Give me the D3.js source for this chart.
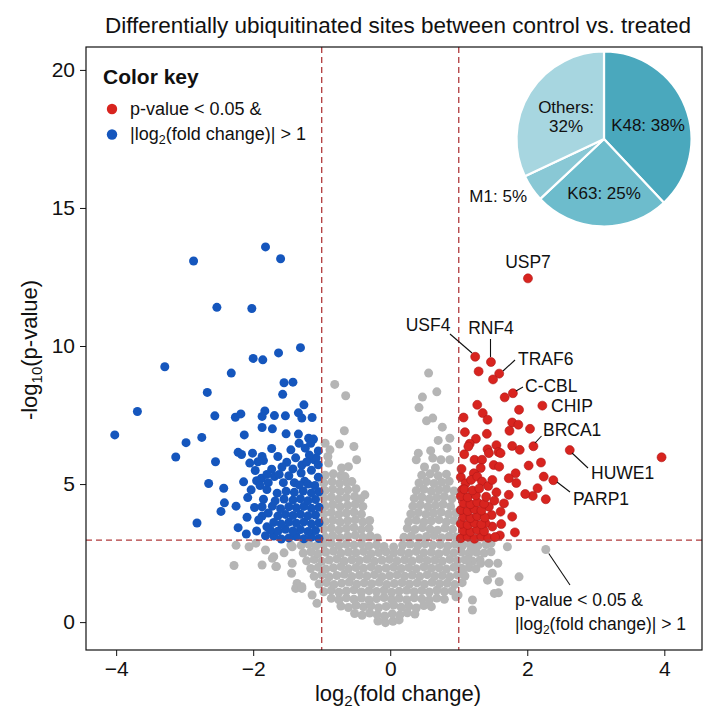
<!DOCTYPE html>
<html><head><meta charset="utf-8">
<script src="https://cdn.jsdelivr.net/npm/d3@7"></script>
<style>body{margin:0;background:#fff}svg{display:block}text{font-family:"Liberation Sans",Arial,Helvetica,sans-serif;fill:#111}</style>
</head><body><svg id="c" width="717" height="717"></svg>
<script>
const xTicks=[-4,-2,0,2,4];
const yTicks=[0,5,10,15,20];
const fcThreshold=1;
const pThreshold=2.97;
const pieLabels=["K48","K63","M1","Others"];
const pieValues=[38,25,5,32];
const geneLabels=["USP7","USF4","RNF4","TRAF6","C-CBL","CHIP","BRCA1","HUWE1","PARP1"];
const genePoints=[[2.01,12.45],[1.24,9.61],[1.47,9.42],[1.59,9.00],[1.79,8.29],[2.22,7.84],[2.09,6.37],[2.62,6.23],[2.38,5.14]];
const calloutPoint=[2.27,2.63];

const graySites=[
[-0.18,0.04],[-0.07,-0.02],[0.04,0.03],[0.13,0.08],
[-0.52,0.31],[-0.41,0.25],[-0.30,0.33],[-0.19,0.27],[-0.08,0.22],[0.03,0.30],[0.14,0.26],[0.25,0.34],[0.36,0.29],
[-0.72,0.58],[-0.61,0.53],[-0.50,0.61],[-0.39,0.55],[-0.28,0.59],[-0.17,0.52],[-0.06,0.57],[0.05,0.62],[0.16,0.54],[0.27,0.58],[0.38,0.51],[0.49,0.60],[0.60,0.56],
[-0.86,0.86],[-0.75,0.81],[-0.64,0.88],[-0.53,0.83],[-0.42,0.87],[-0.31,0.80],[-0.20,0.85],[-0.09,0.89],[0.02,0.82],[0.13,0.86],[0.24,0.81],[0.35,0.88],[0.46,0.84],[0.57,0.80],[0.68,0.87],[0.79,0.83],
[-0.97,1.10],[-0.86,1.15],[-0.75,1.08],[-0.64,1.13],[-0.53,1.17],[-0.42,1.09],[-0.31,1.14],[-0.20,1.11],[-0.09,1.16],[0.02,1.08],[0.13,1.12],[0.24,1.15],[0.35,1.10],[0.46,1.14],[0.57,1.09],[0.68,1.16],[0.79,1.11],[0.90,1.13],
[-1.04,1.38],[-0.93,1.43],[-0.82,1.36],[-0.71,1.41],[-0.60,1.45],[-0.49,1.37],[-0.38,1.42],[-0.27,1.39],[-0.16,1.44],[-0.05,1.36],[0.06,1.40],[0.17,1.43],[0.28,1.38],[0.39,1.42],[0.50,1.37],[0.61,1.44],[0.72,1.39],[0.83,1.41],[0.94,1.36],[1.05,1.43],
[-1.11,1.66],[-1.00,1.71],[-0.89,1.64],[-0.78,1.69],[-0.67,1.73],[-0.56,1.65],[-0.45,1.70],[-0.34,1.67],[-0.23,1.72],[-0.12,1.64],[-0.01,1.68],[0.10,1.71],[0.21,1.66],[0.32,1.70],[0.43,1.65],[0.54,1.72],[0.65,1.67],[0.76,1.69],[0.87,1.64],[0.98,1.71],[1.09,1.67],
[-1.16,1.94],[-1.05,1.99],[-0.94,1.92],[-0.83,1.97],[-0.72,2.01],[-0.61,1.93],[-0.50,1.98],[-0.39,1.95],[-0.28,2.00],[-0.17,1.92],[-0.06,1.96],[0.05,1.99],[0.16,1.94],[0.27,1.98],[0.38,1.93],[0.49,2.00],[0.60,1.95],[0.71,1.97],[0.82,1.92],[0.93,1.99],[1.04,1.95],[1.15,1.98],[1.25,1.93],
[-1.22,2.22],[-1.11,2.27],[-1.00,2.20],[-0.89,2.25],[-0.78,2.29],[-0.67,2.21],[-0.56,2.26],[-0.45,2.23],[-0.34,2.28],[-0.23,2.20],[-0.12,2.24],[-0.01,2.27],[0.10,2.22],[0.21,2.26],[0.32,2.21],[0.43,2.28],[0.54,2.23],[0.65,2.25],[0.76,2.20],[0.87,2.27],[0.98,2.23],[1.09,2.26],[1.20,2.21],[1.31,2.25],
[-1.27,2.50],[-1.16,2.55],[-1.05,2.48],[-0.94,2.53],[-0.83,2.57],[-0.72,2.49],[-0.61,2.54],[-0.50,2.51],[-0.39,2.56],[-0.28,2.48],[-0.17,2.52],[-0.06,2.55],[0.05,2.50],[0.16,2.54],[0.27,2.49],[0.38,2.56],[0.49,2.51],[0.60,2.53],[0.71,2.48],[0.82,2.55],[0.93,2.51],[1.04,2.54],[1.15,2.49],[1.26,2.53],[1.37,2.50],
[-1.30,2.78],[-1.19,2.83],[-1.08,2.76],[-0.97,2.81],[-0.86,2.85],[-0.75,2.77],[-0.64,2.82],[-0.53,2.79],[-0.42,2.84],[-0.31,2.76],[-0.20,2.80],[-0.09,2.74],[0.05,2.72],[0.18,2.79],[0.29,2.83],[0.40,2.77],[0.51,2.84],[0.62,2.79],[0.73,2.81],[0.84,2.76],[0.95,2.83],[1.06,2.79],[1.17,2.82],[1.28,2.77],[1.40,2.81],
[-0.95,3.08],[-0.84,3.13],[-0.73,3.06],[-0.62,3.11],[-0.51,3.15],[-0.40,3.07],[-0.29,3.12],[-0.19,3.05],
[-0.97,3.36],[-0.86,3.41],[-0.75,3.34],[-0.64,3.39],[-0.53,3.43],[-0.42,3.35],[-0.31,3.40],
[-0.95,3.64],[-0.84,3.69],[-0.73,3.62],[-0.62,3.67],[-0.51,3.71],[-0.40,3.63],[-0.30,3.68],
[-0.97,3.92],[-0.86,3.97],[-0.75,3.90],[-0.64,3.95],[-0.53,3.99],[-0.42,3.91],
[-0.95,4.20],[-0.84,4.25],[-0.73,4.18],[-0.62,4.23],[-0.51,4.27],[-0.40,4.19],
[-0.97,4.48],[-0.86,4.53],[-0.75,4.46],[-0.64,4.51],[-0.52,4.55],[-0.43,4.47],
[-0.95,4.76],[-0.84,4.81],[-0.73,4.74],[-0.62,4.79],[-0.50,4.83],
[-0.97,5.04],[-0.85,5.09],[-0.74,5.02],[-0.63,5.07],
[-0.95,5.32],[-0.83,5.37],[-0.72,5.30],
[0.20,3.07],[0.31,3.12],[0.42,3.05],[0.53,3.10],[0.64,3.14],[0.75,3.06],[0.86,3.11],[0.96,3.08],
[0.25,3.40],[0.36,3.35],[0.47,3.42],[0.58,3.37],[0.69,3.33],[0.80,3.41],[0.91,3.36],
[0.27,3.64],[0.38,3.69],[0.49,3.62],[0.60,3.67],[0.71,3.71],[0.82,3.63],[0.93,3.68],
[0.30,3.92],[0.41,3.97],[0.52,3.90],[0.63,3.95],[0.74,3.99],[0.85,3.91],[0.96,3.96],
[0.33,4.20],[0.44,4.25],[0.55,4.18],[0.66,4.23],[0.77,4.27],[0.88,4.19],
[0.35,4.48],[0.46,4.53],[0.57,4.46],[0.68,4.51],[0.79,4.55],[0.90,4.47],
[0.38,4.76],[0.49,4.81],[0.60,4.74],[0.71,4.79],[0.82,4.83],[0.93,4.75],
[0.42,5.04],[0.53,5.09],[0.64,5.02],[0.75,5.07],[0.86,5.10],
[0.46,5.32],[0.58,5.37],[0.70,5.30],[0.82,5.36],
[0.50,5.62],[0.66,5.58],
[-0.81,8.61],[-0.65,8.20],[-0.67,6.93],[-0.53,6.36],[-0.74,6.45],[-0.49,5.88],[-0.88,6.24],[-0.95,6.48],[-0.91,6.00],[-0.90,5.76],[-0.71,5.58],[-0.61,5.63],[-0.66,5.27],[-0.56,5.09],[-0.37,4.61],
[0.56,9.02],[0.68,8.34],[0.47,8.15],[0.42,7.77],[0.53,7.29],[0.62,7.39],[0.76,7.06],[0.70,6.58],[0.87,6.66],[0.83,6.30],[0.59,6.21],[0.41,6.12],[0.38,5.88],[0.62,5.94],[0.74,5.88],[0.87,5.88],
[-1.70,2.37],[-1.66,2.01],[-1.55,2.51],[-1.43,2.73],[-1.44,1.77],[-1.36,1.40],[-1.29,1.22],[-1.14,0.98],[-1.07,0.68],[-2.06,2.73],[-1.96,2.86],[-1.82,2.61],[-1.87,2.07],[-1.72,2.31],[-1.67,2.01],[-1.45,2.79],[-1.43,2.13],[-1.38,1.22],[-1.29,1.28],[-2.28,2.05],[-2.25,2.78],
[2.27,2.63],[1.71,2.73],[1.47,2.85],[1.47,2.55],[1.44,2.13],[1.57,2.13],[1.49,1.77],[1.59,1.46],[1.88,1.64],[1.58,1.06],[0.99,0.98],[1.20,0.44],[1.06,1.77],[1.13,2.25],[1.03,2.73],[1.18,2.61],[1.32,2.13],[1.42,1.52],[1.52,1.04],[1.20,0.80],[0.96,0.92]
];

const blueSites=[
[-1.82,13.59],[-1.60,13.16],[-2.87,13.08],[-2.53,11.40],[-2.02,11.36],[-1.31,9.94],[-1.63,9.75],[-2.00,9.55],[-1.86,9.50],[-3.29,9.25],[-2.32,9.02],[-1.55,8.67],[-1.42,8.69],[-1.57,8.25],[-2.67,8.32],[-3.69,7.63],[-4.02,6.78],[-2.56,7.47],[-2.26,7.42],[-2.18,7.54],[-1.83,7.65],[-1.87,7.45],[-1.69,7.48],[-1.53,7.47],[-1.34,7.58],[-1.26,7.87],[-1.29,7.39],[-1.14,7.41],[-1.87,7.05],[-1.72,7.00],[-2.13,6.78],[-1.52,6.82],[-1.34,6.81],[-1.19,6.66],[-1.12,6.63],[-2.75,6.69],[-2.98,6.50],[-3.13,5.98],[-2.55,5.81],[-2.22,6.15],[-2.17,6.07],[-2.01,6.12],[-1.87,6.00],[-1.85,5.85],[-1.93,5.81],[-1.73,6.29],[-1.64,6.00],[-1.51,5.79],[-1.45,6.24],[-1.33,6.48],[-1.24,6.30],[-1.16,6.48],[-1.11,5.88],[-1.29,5.69],[-2.05,5.76],[-1.97,5.49],[-1.88,5.21],[-1.73,5.54],[-1.69,5.27],[-2.65,5.02],[-2.43,4.85],[-2.42,4.32],[-2.47,4.01],[-2.82,3.59],[-2.14,5.08],[-2.03,4.79],[-2.08,4.51],[-2.09,3.80],[-2.10,3.19],[-1.82,3.13],[-1.87,4.18],[-1.87,3.84],
[-1.05,6.20],[-1.08,5.95],[-1.18,6.05],[-1.22,5.80],[-1.38,5.95],[-1.42,5.55],[-1.58,5.62],[-1.62,5.35],[-1.48,5.30],[-1.30,5.40],[-1.15,5.50],[-1.05,5.70],[-1.05,5.25],[-1.25,5.10],[-1.40,5.05],[-1.56,5.05],[-1.78,5.05],[-1.95,5.12],[-1.80,5.35],
[-1.04,3.03],[-1.15,3.08],[-1.26,3.02],[-1.37,3.10],[-1.48,3.05],[-1.59,3.01],[-1.70,3.12],
[-1.09,3.32],[-1.20,3.28],[-1.31,3.35],[-1.42,3.30],[-1.53,3.36],[-1.64,3.29],[-1.75,3.34],
[-1.04,3.60],[-1.15,3.56],[-1.26,3.63],[-1.37,3.58],[-1.48,3.62],[-1.59,3.55],[-1.70,3.61],
[-1.09,3.88],[-1.20,3.85],[-1.31,3.91],[-1.42,3.86],[-1.53,3.90],[-1.64,3.84],
[-1.04,4.16],[-1.15,4.12],[-1.26,4.19],[-1.37,4.14],[-1.48,4.18],[-1.60,4.11],[-1.72,4.20],
[-1.09,4.44],[-1.20,4.40],[-1.31,4.47],[-1.42,4.42],[-1.55,4.46],[-1.68,4.39],
[-1.04,4.72],[-1.15,4.68],[-1.27,4.75],[-1.40,4.70],[-1.52,4.74],[-1.65,4.67],
[-1.10,4.95],[-1.33,4.97],[-1.20,5.00],
[-1.80,3.45],[-1.92,3.70],[-1.85,4.45],[-1.98,4.15],[-1.80,4.80],[-1.95,3.30],[-1.78,3.95],[-1.90,4.95],[-2.22,3.42],[-2.25,4.20]
];

const redSites=[
[2.01,12.45],[1.24,9.61],[1.47,9.42],[1.29,9.08],[1.59,9.00],[1.50,8.79],[1.79,8.29],[1.67,8.14],[2.22,7.84],[1.88,7.69],[1.27,7.87],[1.35,7.57],[1.42,7.33],[1.07,7.41],[1.78,7.23],[1.87,7.15],[1.74,6.93],[2.04,7.00],[2.09,6.37],[1.78,6.38],[1.89,6.24],[1.09,6.88],[1.25,6.64],[1.41,6.82],[1.55,6.41],[1.42,6.26],[1.44,6.12],[1.58,6.16],[2.62,6.23],[3.96,5.97],[2.02,5.67],[2.20,5.78],[2.38,5.14],[2.24,5.27],[2.15,4.85],[2.08,4.57],[2.27,4.45],[1.97,4.64],[1.66,4.30],[1.78,3.82],[1.83,5.39],[1.84,5.04],
[1.16,6.46],[1.08,6.08],[1.14,6.36],[1.61,6.12],[1.23,5.88],[1.34,5.88],[1.32,5.58],[1.22,5.39],[1.51,5.69],[1.59,5.63],[1.03,5.25],[1.10,5.03],[1.05,4.79],[1.18,5.15],[1.27,5.27],[1.34,5.09],[1.43,4.93],[1.49,5.15],[1.73,5.21],[1.73,4.61],[1.61,4.00],[1.48,3.88],[1.82,3.25],[1.60,3.14],[1.49,3.46],[1.39,3.58],[1.32,3.94],[1.44,4.18],[1.55,4.70],[1.62,3.55],[1.52,4.40],[1.04,5.55],
[1.03,3.04],[1.13,3.09],[1.23,3.02],[1.33,3.10],[1.43,3.05],[1.53,3.08],
[1.07,3.31],[1.17,3.27],[1.27,3.34],[1.37,3.29],
[1.03,3.56],[1.13,3.52],[1.23,3.59],[1.33,3.54],
[1.07,3.81],[1.17,3.77],[1.27,3.84],[1.38,3.79],
[1.03,4.06],[1.13,4.02],[1.23,4.09],[1.33,4.04],
[1.07,4.31],[1.17,4.27],[1.27,4.34],[1.37,4.29],
[1.03,4.56],[1.13,4.52],[1.25,4.59],[1.40,4.54],
[1.08,4.81],[1.20,4.77],[1.30,4.84]
];

const L=86,R=702,T=47,B=650;
const svg=d3.select("#c");
const x=d3.scaleLinear().domain([-4.44,4.55]).range([L,R]);
const y=d3.scaleLinear().domain([-1.01,20.83]).range([B,T]);

svg.append("text").attr("x",398).attr("y",33).attr("text-anchor","middle").attr("font-size",22.5).text("Differentially ubiquitinated sites between control vs. treated");

const dash="#b13a3c";
const g=svg.append("g");
g.selectAll("circle.gr").data(graySites).join("circle").attr("class","gr")
 .attr("cx",d=>x(d[0])).attr("cy",d=>y(d[1])).attr("r",4.5).attr("fill","#b5b5b5");
g.selectAll("circle.bl").data(blueSites).join("circle").attr("class","bl")
 .attr("cx",d=>x(d[0])).attr("cy",d=>y(d[1])).attr("r",4.5).attr("fill","#1556bd");
g.selectAll("circle.rd").data(redSites).join("circle").attr("class","rd")
 .attr("cx",d=>x(d[0])).attr("cy",d=>y(d[1])).attr("r",4.5).attr("fill","#d8241f").attr("stroke","#b01818").attr("stroke-width",0.6);

[-fcThreshold,fcThreshold].forEach(v=>{
 svg.append("line").attr("x1",x(v)).attr("x2",x(v)).attr("y1",T).attr("y2",B)
  .attr("stroke",dash).attr("stroke-width",1.3).attr("stroke-dasharray","6,4");
});
svg.append("line").attr("x1",L).attr("x2",R).attr("y1",y(pThreshold)).attr("y2",y(pThreshold))
 .attr("stroke",dash).attr("stroke-width",1.3).attr("stroke-dasharray","6,4");

svg.append("rect").attr("x",L).attr("y",T).attr("width",R-L).attr("height",B-T).attr("fill","none").attr("stroke","#111").attr("stroke-width",1.2);
const ax=svg.append("g").attr("transform",`translate(0,${B})`).call(d3.axisBottom(x).tickValues(xTicks).tickSize(6).tickPadding(5));
const ay=svg.append("g").attr("transform",`translate(${L},0)`).call(d3.axisLeft(y).tickValues(yTicks).tickSize(6).tickPadding(5));
[ax,ay].forEach(a=>{a.select(".domain").remove();a.selectAll("line").attr("stroke","#111");a.selectAll("text").attr("font-size",21).attr("font-family","Liberation Sans, Arial").attr("fill","#111");});

const xt=svg.append("text").attr("x",398).attr("y",701).attr("text-anchor","middle").attr("font-size",22);
xt.append("tspan").text("log");xt.append("tspan").attr("font-size",15).attr("dy",5).text("2");xt.append("tspan").attr("dy",-5).text("(fold change)");
const yt=svg.append("text").attr("transform","translate(37,350) rotate(-90)").attr("text-anchor","middle").attr("font-size",22);
yt.append("tspan").text("-log");yt.append("tspan").attr("font-size",15).attr("dy",5).text("10");yt.append("tspan").attr("dy",-5).text("(p-value)");

svg.append("text").attr("x",103).attr("y",84).attr("font-size",21).attr("font-weight","bold").text("Color key");
svg.append("circle").attr("cx",112).attr("cy",109).attr("r",5.2).attr("fill","#d8241f");
svg.append("circle").attr("cx",112).attr("cy",134.5).attr("r",5.2).attr("fill","#1556bd");
svg.append("text").attr("x",130).attr("y",115).attr("font-size",18).text("p-value < 0.05 &");
const lg=svg.append("text").attr("x",130).attr("y",140).attr("font-size",18);
lg.append("tspan").text("|log");lg.append("tspan").attr("font-size",12.5).attr("dy",4).text("2");lg.append("tspan").attr("dy",-4).text("(fold change)| > 1");

const labelLayout=[
 {tx:528,ty:268,anchor:"middle"},
 {tx:428,ty:331,anchor:"middle",line:[450,334,472,353]},
 {tx:491,ty:334,anchor:"middle",line:[490.5,339,490.5,357]},
 {tx:518,ty:365,anchor:"start",line:[515,360,503,371]},
 {tx:525,ty:392,anchor:"start",line:[523,387,516,391]},
 {tx:551,ty:412,anchor:"start"},
 {tx:543,ty:436,anchor:"start",line:[541.5,436,535,443]},
 {tx:591,ty:479,anchor:"start",line:[572,453,588,468]},
 {tx:573,ty:505,anchor:"start",line:[557,482,570,492]}
];
geneLabels.forEach((lab,i)=>{
 const Lo=labelLayout[i];
 if(Lo.line) svg.append("line").attr("x1",Lo.line[0]).attr("y1",Lo.line[1]).attr("x2",Lo.line[2]).attr("y2",Lo.line[3]).attr("stroke","#111").attr("stroke-width",1.1);
 svg.append("text").attr("x",Lo.tx).attr("y",Lo.ty).attr("text-anchor",Lo.anchor).attr("font-size",17.5).text(lab);
});
svg.append("line").attr("x1",x(calloutPoint[0])+3).attr("y1",y(calloutPoint[1])+4).attr("x2",570).attr("y2",585).attr("stroke","#111").attr("stroke-width",1.1);
svg.append("text").attr("x",515).attr("y",606).attr("font-size",17.5).text("p-value < 0.05 &");
const ct=svg.append("text").attr("x",515).attr("y",630).attr("font-size",17.5);
ct.append("tspan").text("|log");ct.append("tspan").attr("font-size",12).attr("dy",4).text("2");ct.append("tspan").attr("dy",-4).text("(fold change)| > 1");

const pieColors=["#4aa8bd","#6dbccc","#89c8d5","#a7d6e0"];
const pie=d3.pie().sort(null).value(d=>d)(pieValues);
const arc=d3.arc().innerRadius(0).outerRadius(87.5);
const pg=svg.append("g").attr("transform","translate(604,139)");
pg.selectAll("path").data(pie).join("path").attr("d",arc).attr("fill",(d,i)=>pieColors[i]).attr("stroke","#fff").attr("stroke-width",2.2);
const pt=[[44,-8,"middle"],[0,60,"middle"],[-77,63,"end"],[-38,-26,"middle"]];
pieLabels.forEach((lab,i)=>{
 if(lab==="Others"){
  pg.append("text").attr("x",-38).attr("y",-26).attr("text-anchor","middle").attr("font-size",17).text("Others:");
  pg.append("text").attr("x",-38).attr("y",-7).attr("text-anchor","middle").attr("font-size",17).text(pieValues[i]+"%");
 } else {
  pg.append("text").attr("x",pt[i][0]).attr("y",pt[i][1]).attr("text-anchor",pt[i][2]).attr("font-size",17).text(lab+": "+pieValues[i]+"%");
 }
});
</script></body></html>
